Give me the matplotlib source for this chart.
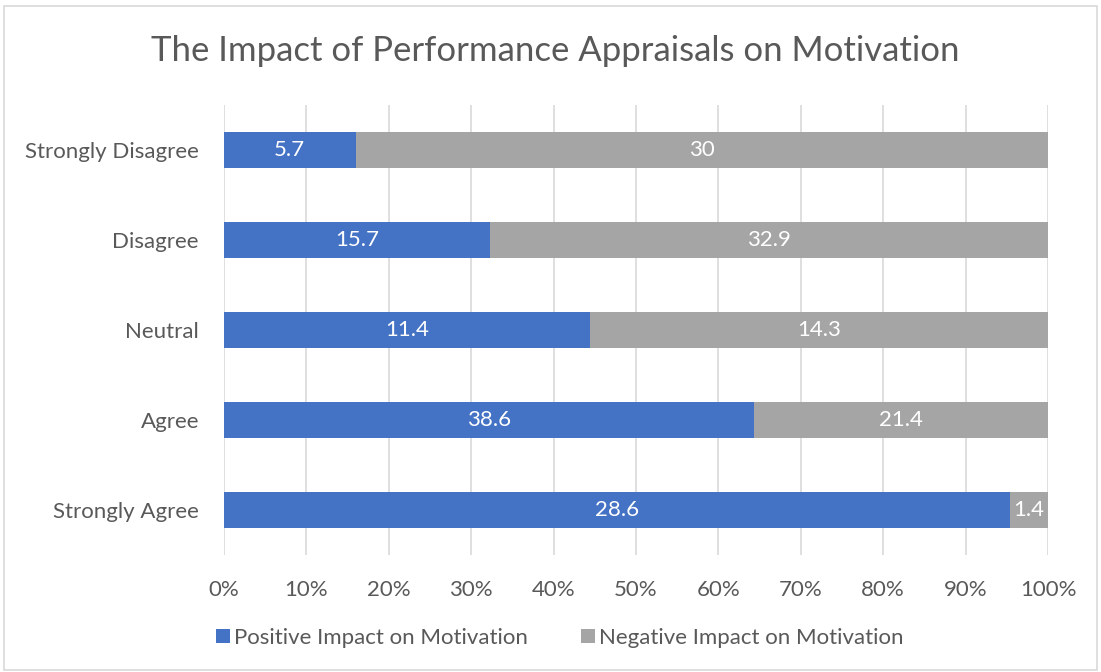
import matplotlib.pyplot as plt
import numpy as np
from matplotlib.patches import Rectangle

categories = ["Strongly Disagree", "Disagree", "Neutral", "Agree", "Strongly Agree"]
positive = [5.7, 15.7, 11.4, 38.6, 28.6]
negative = [30, 32.9, 14.3, 21.4, 1.4]
series_names = ["Positive Impact on Motivation", "Negative Impact on Motivation"]

plt.rcParams["font.family"] = ["Lato", "DejaVu Sans"]
text_col = "#595959"
blue = "#4472C4"
grey = "#A5A5A5"
fs = 16

fig = plt.figure(figsize=(11.01, 6.72), dpi=100)
ax = fig.add_axes([224 / 1101, 1 - 555 / 672, (1048 - 224) / 1101, 450 / 672])

# ramka wokol wykresu
fig.patches.append(Rectangle((4 / 1101, 2 / 672), 1093 / 1101, 664 / 672, transform=fig.transFigure,
                             fill=False, edgecolor="#D9D9D9", linewidth=1.2))

pos = np.array(positive)
neg = np.array(negative)
total = pos + neg
y = np.arange(len(categories))

b1 = ax.barh(y, pos / total, height=0.39, color=blue, label=series_names[0], zorder=3)
b2 = ax.barh(y, neg / total, left=pos / total, height=0.39, color=grey, label=series_names[1], zorder=3)

for bars, vals in [(b1, positive), (b2, negative)]:
    for rect, v in zip(bars, vals):
        ax.text(rect.get_x() + rect.get_width() / 2, rect.get_y() + rect.get_height() / 2,
                "{:g}".format(v), ha="center", va="center", color="white", fontsize=fs, zorder=4)

ax.set_xlim(0, 1)
ax.set_ylim(len(categories) - 0.5, -0.5)
ax.set_xticks(np.linspace(0, 1, 11))
ax.set_xticklabels([f"{int(round(t * 100))}%" for t in np.linspace(0, 1, 11)])
ax.set_yticks(y)
ax.set_yticklabels(categories)
ax.tick_params(axis="both", length=0, colors=text_col, labelsize=fs)
ax.tick_params(axis="y", pad=18)
ax.tick_params(axis="x", pad=18)
ax.grid(axis="x", color="#D9D9D9", linewidth=1.2, zorder=0)
for s in ax.spines.values():
    s.set_visible(False)

fig.text(0.5 + 5 / 1101, 1 - 51 / 672, "The Impact of Performance Appraisals on Motivation",
         ha="center", va="center", fontsize=25, color=text_col)

fig.legend(handles=[b1, b2], loc="center", bbox_to_anchor=(560 / 1101, 1 - 638 / 672), ncol=2,
           frameon=False, fontsize=fs, labelcolor=text_col, handlelength=0.6, handleheight=0.6,
           handletextpad=0.2, columnspacing=2.4)

plt.savefig("out.png", dpi=100)
